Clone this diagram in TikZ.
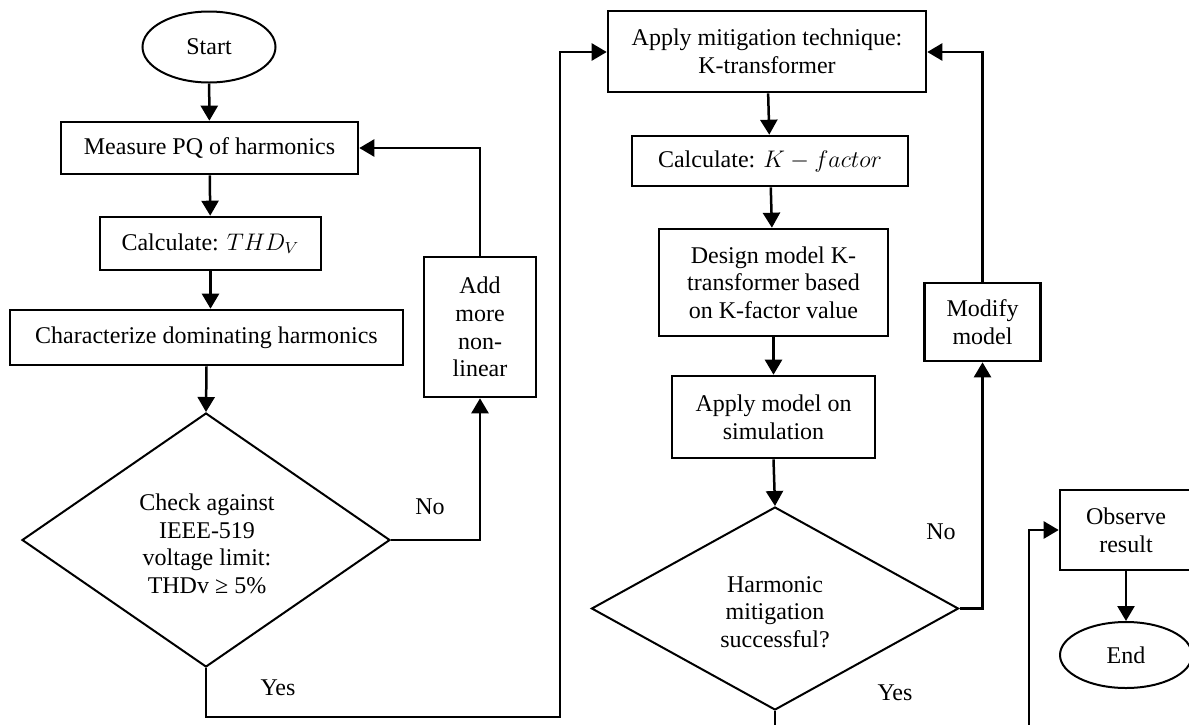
\documentclass[tikz,border=0pt]{standalone}
\usepackage{fontspec}
\setmainfont{Liberation Serif}
\usetikzlibrary{shapes.geometric,arrows.meta}
\tikzset{
  every node/.style={font=\fontsize{12}{13.8}\selectfont, inner sep=0pt, align=center},
  box/.style={draw, rectangle, line width=1.3pt},
  term/.style={draw, ellipse, line width=1pt},
  dec/.style={draw, diamond, line width=1pt},
  arr/.style={line width=1.25pt, -{Triangle[length=7.5pt,width=8.5pt]}},
  ln/.style={line width=1.25pt},
}
\begin{document}
\begin{tikzpicture}[x=0.5pt,y=-0.5pt]
\useasboundingbox (0,0) rectangle (1189,724);
% left column
\node[term, minimum width=66.5pt, minimum height=35.5pt] (start) at (209,47) {Start};
\node[box, minimum width=148.5pt, minimum height=26pt] (measure) at (209.5,148) {Measure PQ of harmonics};
\node[box, minimum width=110.5pt, minimum height=26.5pt] (thd) at (210.5,243.5) {Calculate: $THD_V$};
\node[box, minimum width=196.5pt, minimum height=27.5pt] (char) at (206.5,337.5) {Characterize dominating harmonics};
\node[dec, minimum width=184pt, minimum height=127pt] (chk) at (206,540) {};
\node at (207,544) {Check against\\IEEE-519\\voltage limit:\\THDv ≥ 5\%};
\node[box, minimum width=56pt, minimum height=70pt] (add) at (480,327) {Add\\more\\non-\\linear};
\node (no1) at (430,507) {No};
\node (yes1) at (278,688) {Yes};
% middle column
\node[box, minimum width=159pt, minimum height=40.5pt] (apply) at (767,51.5) {Apply mitigation technique:\\K-transformer};
\node[box, minimum width=138pt, minimum height=25pt] (calck) at (770,161) {Calculate: $K-factor$};
\node[box, minimum width=114.5pt, minimum height=53.5pt] (design) at (773.5,282.5) {Design model K-\\transformer based\\on K-factor value};
\node[box, minimum width=101.5pt, minimum height=41pt] (model) at (773.5,417) {Apply model on\\simulation};
\node[dec, minimum width=183.5pt, minimum height=101.5pt] (succ) at (775,608.5) {};
\node at (775,612) {Harmonic\\mitigation\\successful?};
\node[box, minimum width=58pt, minimum height=39pt] (modify) at (982.5,322) {Modify\\model};
\node (no2) at (941,532) {No};
\node (yes2) at (895,693) {Yes};
% right column
\node[box, minimum width=66pt, minimum height=40pt] (observe) at (1126,530) {Observe\\result};
\node[term, minimum width=66pt, minimum height=33pt] (end) at (1126,655) {End};
\coordinate (bl) at (775,740);
\coordinate (br) at (1029,740);
% connectors
\draw[arr] (start) -- (measure);
\draw[arr] (measure) -- (thd);
\draw[arr] (thd.south) -- (thd.south |- char.north);
\draw[arr] (char.south) -- (chk.north);
\draw[arr] (chk.east) -| (add.south);
\draw[arr] (add.north) |- (measure.east);
\draw[arr] (chk.south) -- ++(0,49) -| (560,52) -- (apply.west |- 0,52);
\draw[arr] (apply) -- (calck);
\draw[arr] (calck) -- (design);
\draw[arr] (design) -- (model);
\draw[arr] (model.south) -- (succ.north);
\draw[arr] (succ.east) -| (modify.south);
\draw[arr] (modify.north) |- (apply.east |- 0,52);
\draw[ln] (succ.south) -- (bl) -- (br);
\draw[arr] (br) |- (observe.west);
\draw[arr] (observe) -- (end);
\end{tikzpicture}
\end{document}
